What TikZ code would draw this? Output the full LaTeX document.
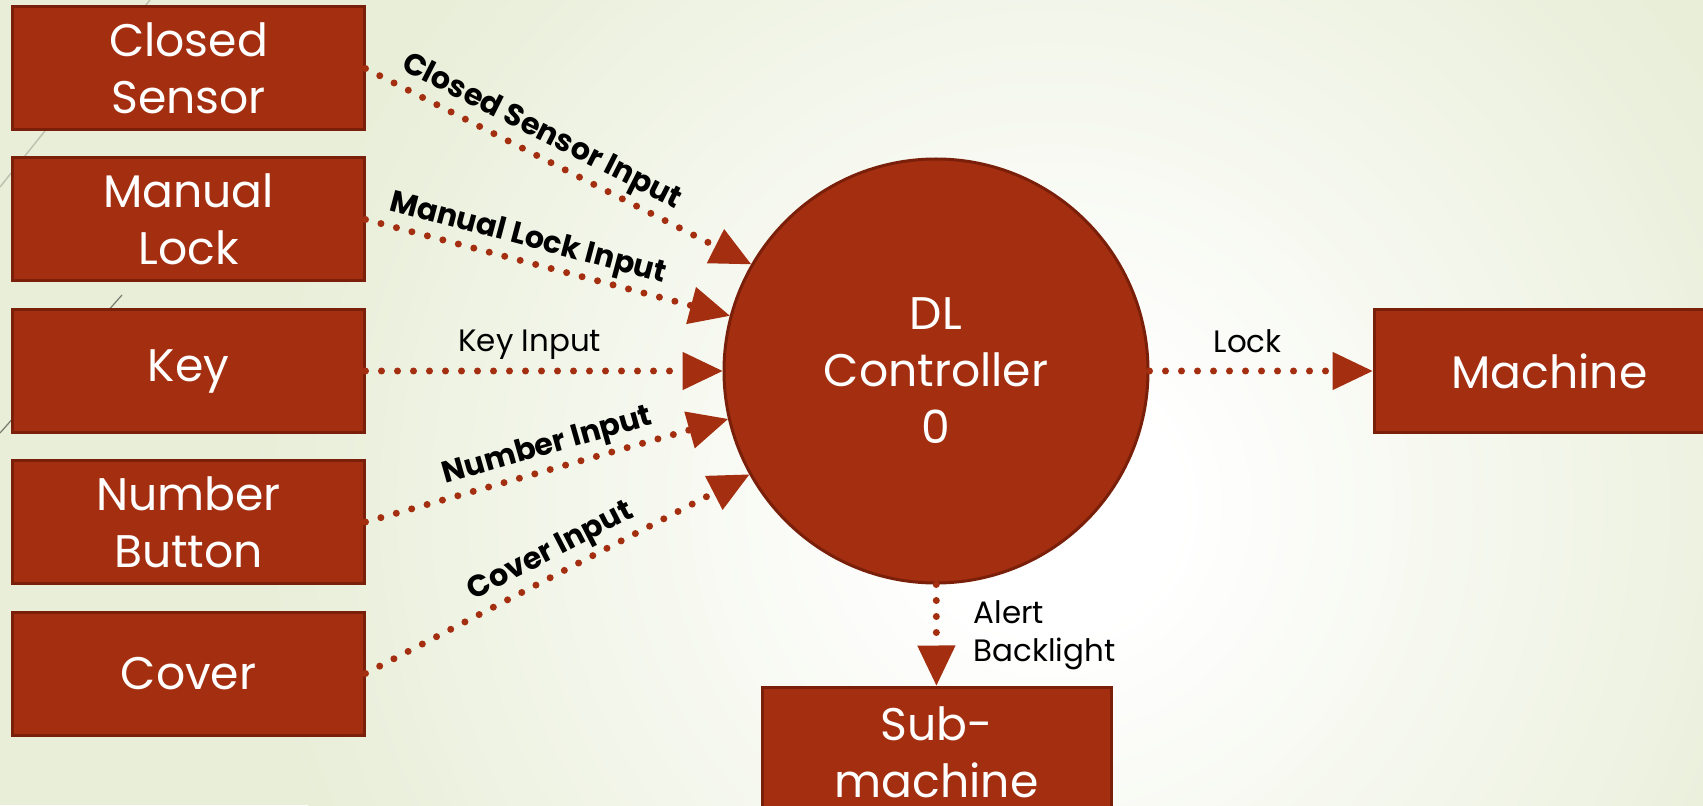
\documentclass[tikz,border=0pt]{standalone}
\usepackage{fontspec}
\setmainfont{Poppins}
\usetikzlibrary{arrows.meta}
\definecolor{r164g46b16}{rgb}{0.643000,0.180000,0.063000}%
\definecolor{r122g31b10}{rgb}{0.478000,0.122000,0.039000}%
\definecolor{r232g238b216}{rgb}{0.910000,0.933000,0.847000}%
\definecolor{r190g194b178}{rgb}{0.745000,0.761000,0.698000}%
\definecolor{r120g122b110}{rgb}{0.471000,0.478000,0.431000}%
\pgfdeclareradialshading{slidebg}{\pgfpoint{0bp}{0bp}}{color(0bp)=(white); color(4bp)=(white); color(25bp)=(r232g238b216); color(50bp)=(r232g238b216)}
\begin{document}
\begin{tikzpicture}[
    box/.style={draw=r122g31b10, line width=0.03cm, fill=r164g46b16, text=white, minimum width=3.51cm, minimum height=1.23cm, inner sep=0pt, align=center, font=\fontsize{13}{16.2}\selectfont},
    proc/.style={circle, draw=r122g31b10, line width=0.03cm, fill=r164g46b16, text=white, minimum size=4.24cm, inner sep=0pt, align=center, font=\fontsize{13}{16.2}\selectfont},
    flow/.style={draw=r164g46b16, line width=0.07cm, line cap=round, dash pattern=on 0pt off 0.16cm, -{Triangle[length=0.4cm, width=0.38cm, line width=0.4pt]}},
    lbl/.style={text=black, inner sep=1pt, font=\fontsize{8.6}{10.8}\selectfont\bfseries},
    plainlbl/.style={text=black, font=\fontsize{8.8}{10.8}\selectfont}]
                        \useasboundingbox (0.000000,0.000000) rectangle (17.030000,8.050000);%
                        \clip (0.000000,0.000000) rectangle (17.030000,8.050000);%

                        % Drawing slide background
                        \fill [r232g238b216] (0.000000,0.000000) rectangle (17.030000,8.050000);%
                        \shade [shading=slidebg] (10.500000,3.000000) circle (8.000000);%
                        \draw [r190g194b178, line width=0.015cm] (1.500000,8.050000) -- (0.000000,6.180000);%
                        \draw [r120g122b110, line width=0.012cm] (1.220000,5.100000) -- (0.000000,3.720000);%

                        % Drawing external entities
                        \node [box] (cs) at (1.885000,7.365000) {Closed\\Sensor};%
                        \node [box] (ml) at (1.885000,5.855000) {Manual\\Lock};%
                        \node [box] (key) at (1.885000,4.340000) {Key};%
                        \node [box] (nb) at (1.885000,2.830000) {Number\\Button};%
                        \node [box] (cov) at (1.885000,1.315000) {Cover};%
                        \node [box] (mach) at (15.495000,4.340000) {Machine};%
                        \node [box, minimum width=3.49cm, text height=0.97cm, text depth=0cm] (sub) at (9.365000,0.565000) {Sub-\\machine};%

                        % Drawing process
                        \node [proc] (dl) at (9.360000,4.340000) {DL\\Controller\\0};%

                        % Drawing data flows
                        \draw [flow] (cs.east) -- node [lbl, sloped, above, pos=0.43] {Closed Sensor Input} (dl.150);%
                        \draw [flow] (ml.east) -- node [lbl, sloped, above, pos=0.43] {Manual Lock Input} (dl.165);%
                        \draw [flow] (key.east) -- node [plainlbl, above, pos=0.46, yshift=-0.04cm] {Key Input} (dl);%
                        \draw [flow] (nb.east) -- node [lbl, sloped, above, pos=0.52] {Number Input} (dl.193);%
                        \draw [flow] (cov.east) -- node [lbl, sloped, above, pos=0.51] {Cover Input} (dl.209);%
                        \draw [flow] (dl) -- node [plainlbl, above, pos=0.44, yshift=0.03cm] {Lock} (mach);%
                        \draw [flow] (dl) -- node [plainlbl, right, align=left, xshift=0.22cm] {Alert\\Backlight} (sub);%
\end{tikzpicture}
\end{document}
